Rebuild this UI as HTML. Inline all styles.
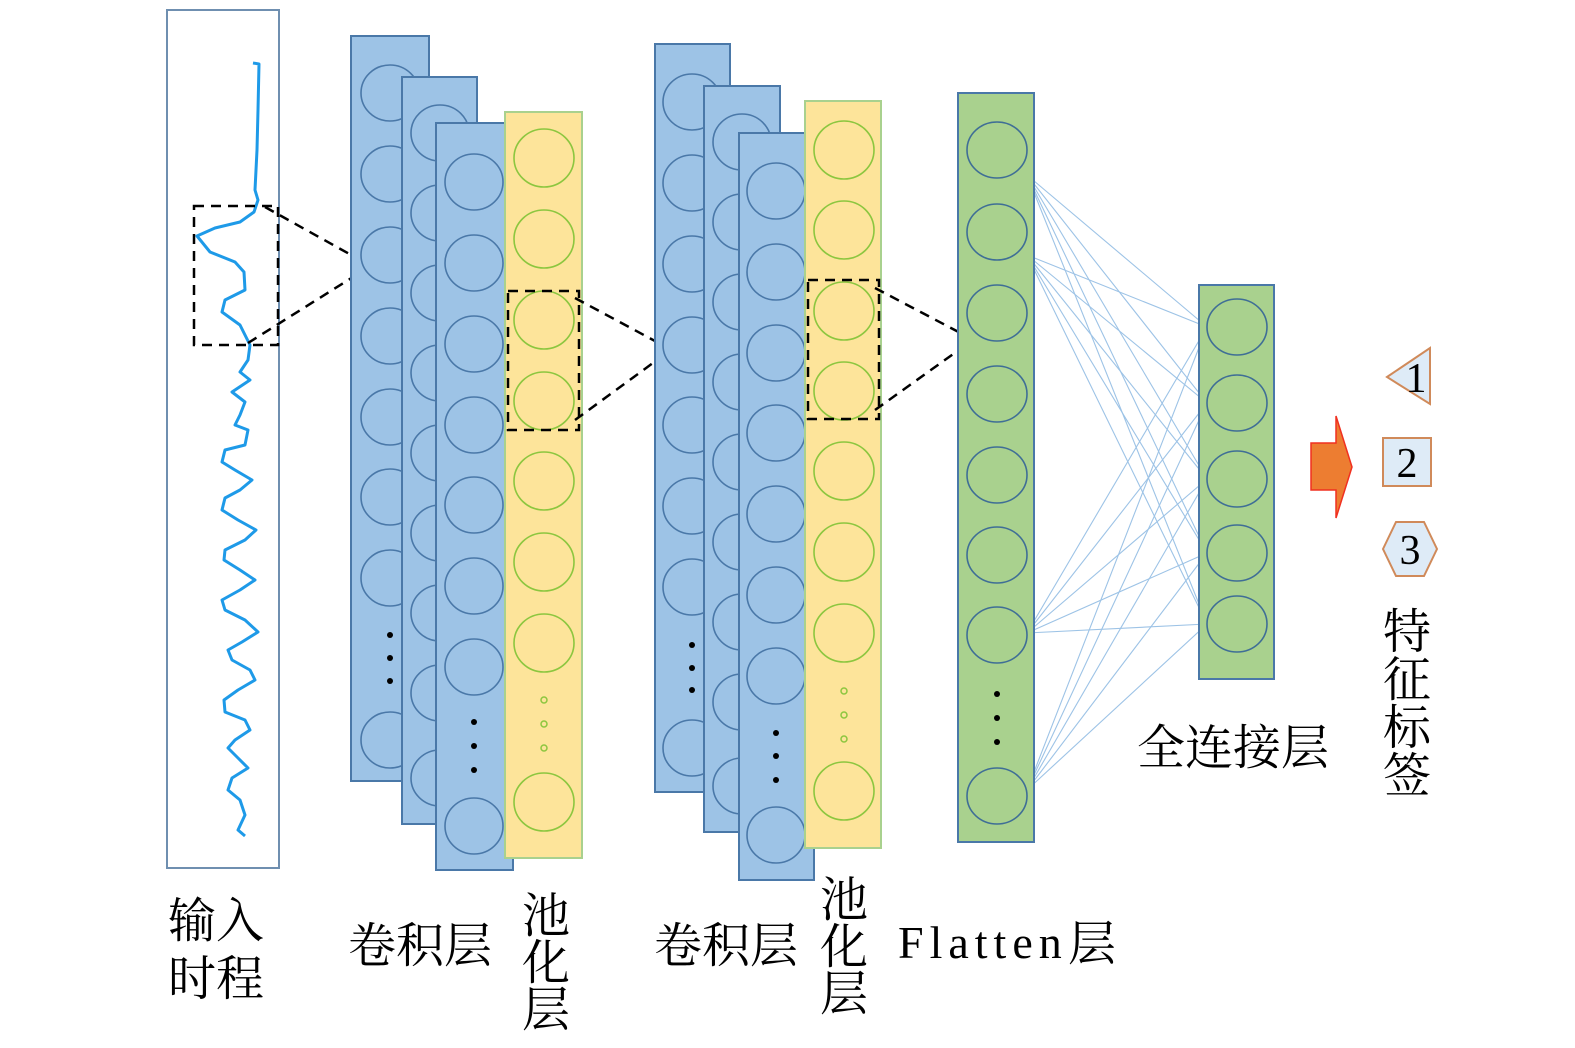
<!DOCTYPE html>
<html><head><meta charset="utf-8"><style>
html,body{margin:0;padding:0;background:#fff}
svg{display:block}
text{font-family:"Liberation Serif","Noto Serif CJK SC","Noto Sans CJK SC",serif;fill:#000}
</style></head><body>
<svg width="1575" height="1048" viewBox="0 0 1575 1048" xmlns="http://www.w3.org/2000/svg">
<defs>
<g id="cb"><ellipse rx="29" ry="28" fill="none" stroke="#4a78a8" stroke-width="1.6"/></g>
<g id="cy"><ellipse rx="30" ry="29" fill="none" stroke="#8cc63f" stroke-width="1.6"/></g>
<g id="cg"><ellipse rx="30" ry="28" fill="none" stroke="#3f6e96" stroke-width="1.6"/></g>
</defs>
<rect x="167" y="10" width="112" height="858" fill="#fff" stroke="#6f8fb0" stroke-width="2"/>
<path d="M253,63 L259,64 L258,110 L257,150 L255,190 L258,200 L254,212 L240,222 L215,228 L197,236 L210,252 L235,262 L244,272 L245,290 L225,300 L222,312 L240,325 L250,345 L248,360 L240,372 L250,380 L232,392 L245,402 L240,415 L235,425 L248,430 L245,445 L225,450 L222,462 L235,470 L252,480 L240,490 L225,498 L222,510 L238,520 L256,530 L245,540 L225,550 L224,560 L240,570 L255,580 L240,590 L222,600 L225,610 L245,620 L258,632 L242,642 L228,650 L232,660 L250,670 L255,680 L238,690 L224,700 L225,712 L245,720 L250,730 L235,740 L228,748 L238,758 L248,768 L232,778 L228,790 L240,800 L245,815 L238,830 L245,836" fill="none" stroke="#1e9ae8" stroke-width="3" stroke-linejoin="round"/>
<g stroke="#000" stroke-width="2.5" stroke-dasharray="10,7" fill="none">
<rect x="194" y="206" width="84" height="139"/>
<line x1="265" y1="207" x2="353" y2="256"/><line x1="248" y1="343" x2="353" y2="277"/>
</g>
<g>
<rect x="351" y="36" width="78" height="745" fill="#9dc3e6" stroke="#4a78a8" stroke-width="2"/>
<use href="#cb" x="390" y="93"/><use href="#cb" x="390" y="174"/><use href="#cb" x="390" y="255"/><use href="#cb" x="390" y="336"/><use href="#cb" x="390" y="417"/><use href="#cb" x="390" y="497"/><use href="#cb" x="390" y="578"/><use href="#cb" x="390" y="740"/>
<circle cx="390" cy="635" r="3"/><circle cx="390" cy="658" r="3"/><circle cx="390" cy="681" r="3"/>
<rect x="402" y="77" width="75" height="747" fill="#9dc3e6" stroke="#4a78a8" stroke-width="2"/>
<use href="#cb" x="440" y="133"/><use href="#cb" x="440" y="213"/><use href="#cb" x="440" y="293"/><use href="#cb" x="440" y="373"/><use href="#cb" x="440" y="453"/><use href="#cb" x="440" y="533"/><use href="#cb" x="440" y="613"/><use href="#cb" x="440" y="693"/><use href="#cb" x="440" y="778"/>
<rect x="436" y="123" width="77" height="747" fill="#9dc3e6" stroke="#4a78a8" stroke-width="2"/>
<use href="#cb" x="474" y="182"/><use href="#cb" x="474" y="263"/><use href="#cb" x="474" y="344"/><use href="#cb" x="474" y="425"/><use href="#cb" x="474" y="505"/><use href="#cb" x="474" y="586"/><use href="#cb" x="474" y="667"/><use href="#cb" x="474" y="826"/>
<circle cx="474" cy="722" r="3"/><circle cx="474" cy="746" r="3"/><circle cx="474" cy="770" r="3"/>
<rect x="505" y="112" width="77" height="746" fill="#fde49a" stroke="#a9d18e" stroke-width="2"/>
<use href="#cy" x="544" y="158"/><use href="#cy" x="544" y="239"/><use href="#cy" x="544" y="320"/><use href="#cy" x="544" y="401"/><use href="#cy" x="544" y="481"/><use href="#cy" x="544" y="562"/><use href="#cy" x="544" y="643"/><use href="#cy" x="544" y="802"/>
<g fill="none" stroke="#8cc63f" stroke-width="1.5"><circle cx="544" cy="700" r="3"/><circle cx="544" cy="724" r="3"/><circle cx="544" cy="748" r="3"/></g>
</g>
<g stroke="#000" stroke-width="2.5" stroke-dasharray="10,7" fill="none">
<rect x="508" y="291" width="71" height="139"/>
<line x1="575" y1="298" x2="668" y2="348"/><line x1="575" y1="420" x2="668" y2="352"/>
</g>
<g>
<rect x="655" y="44" width="75" height="748" fill="#9dc3e6" stroke="#4a78a8" stroke-width="2"/>
<use href="#cb" x="692" y="102"/><use href="#cb" x="692" y="183"/><use href="#cb" x="692" y="264"/><use href="#cb" x="692" y="345"/><use href="#cb" x="692" y="425"/><use href="#cb" x="692" y="506"/><use href="#cb" x="692" y="587"/><use href="#cb" x="692" y="748"/>
<circle cx="692" cy="645" r="3"/><circle cx="692" cy="668" r="3"/><circle cx="692" cy="690" r="3"/>
<rect x="704" y="86" width="76" height="746" fill="#9dc3e6" stroke="#4a78a8" stroke-width="2"/>
<use href="#cb" x="742" y="142"/><use href="#cb" x="742" y="222"/><use href="#cb" x="742" y="302"/><use href="#cb" x="742" y="382"/><use href="#cb" x="742" y="462"/><use href="#cb" x="742" y="542"/><use href="#cb" x="742" y="622"/><use href="#cb" x="742" y="702"/><use href="#cb" x="742" y="786"/>
<rect x="739" y="133" width="75" height="747" fill="#9dc3e6" stroke="#4a78a8" stroke-width="2"/>
<use href="#cb" x="776" y="191"/><use href="#cb" x="776" y="272"/><use href="#cb" x="776" y="353"/><use href="#cb" x="776" y="433"/><use href="#cb" x="776" y="514"/><use href="#cb" x="776" y="595"/><use href="#cb" x="776" y="676"/><use href="#cb" x="776" y="835"/>
<circle cx="776" cy="733" r="3"/><circle cx="776" cy="756" r="3"/><circle cx="776" cy="780" r="3"/>
<rect x="805" y="101" width="76" height="747" fill="#fde49a" stroke="#a9d18e" stroke-width="2"/>
<use href="#cy" x="844" y="150"/><use href="#cy" x="844" y="230"/><use href="#cy" x="844" y="311"/><use href="#cy" x="844" y="391"/><use href="#cy" x="844" y="471"/><use href="#cy" x="844" y="552"/><use href="#cy" x="844" y="633"/><use href="#cy" x="844" y="791"/>
<g fill="none" stroke="#8cc63f" stroke-width="1.5"><circle cx="844" cy="691" r="3"/><circle cx="844" cy="715" r="3"/><circle cx="844" cy="739" r="3"/></g>
</g>
<g stroke="#000" stroke-width="2.5" stroke-dasharray="10,7" fill="none">
<rect x="808" y="280" width="71" height="139"/>
<line x1="875" y1="288" x2="970" y2="338"/><line x1="875" y1="410" x2="970" y2="342"/>
</g>
<g stroke="#9dc3e6" stroke-width="1.1">
<line x1="1027" y1="175" x2="1207" y2="327"/><line x1="1027" y1="175" x2="1207" y2="403"/><line x1="1027" y1="175" x2="1207" y2="479"/><line x1="1027" y1="175" x2="1207" y2="553"/><line x1="1027" y1="175" x2="1207" y2="624"/>
<line x1="1027" y1="255" x2="1207" y2="327"/><line x1="1027" y1="255" x2="1207" y2="403"/><line x1="1027" y1="255" x2="1207" y2="479"/><line x1="1027" y1="255" x2="1207" y2="553"/><line x1="1027" y1="255" x2="1207" y2="624"/>
<line x1="1027" y1="633" x2="1207" y2="327"/><line x1="1027" y1="633" x2="1207" y2="403"/><line x1="1027" y1="633" x2="1207" y2="479"/><line x1="1027" y1="633" x2="1207" y2="553"/><line x1="1027" y1="633" x2="1207" y2="624"/>
<line x1="1027" y1="790" x2="1207" y2="327"/><line x1="1027" y1="790" x2="1207" y2="403"/><line x1="1027" y1="790" x2="1207" y2="479"/><line x1="1027" y1="790" x2="1207" y2="553"/><line x1="1027" y1="790" x2="1207" y2="624"/>
</g>
<rect x="958" y="93" width="76" height="749" fill="#a9d18e" stroke="#4a78a8" stroke-width="2"/>
<use href="#cg" x="997" y="150"/><use href="#cg" x="997" y="232"/><use href="#cg" x="997" y="313"/><use href="#cg" x="997" y="394"/><use href="#cg" x="997" y="475"/><use href="#cg" x="997" y="555"/><use href="#cg" x="997" y="635"/><use href="#cg" x="997" y="796"/>
<circle cx="997" cy="694" r="3"/><circle cx="997" cy="718" r="3"/><circle cx="997" cy="742" r="3"/>
<rect x="1199" y="285" width="75" height="394" fill="#a9d18e" stroke="#4a78a8" stroke-width="2"/>
<use href="#cg" x="1237" y="327"/><use href="#cg" x="1237" y="403"/><use href="#cg" x="1237" y="479"/><use href="#cg" x="1237" y="553"/><use href="#cg" x="1237" y="624"/>
<polygon points="1311,443 1336,443 1336,416 1352,467 1336,518 1336,490 1311,490" fill="#ed7d31" stroke="#f03020" stroke-width="1.5"/>
<polygon points="1387,377 1430,348 1430,404" fill="#deebf7" stroke="#d08a5a" stroke-width="2"/>
<rect x="1383" y="438" width="48" height="48" fill="#deebf7" stroke="#d08a5a" stroke-width="2"/>
<polygon points="1383,549 1396,522 1424,522 1437,549 1424,576 1396,576" fill="#deebf7" stroke="#d08a5a" stroke-width="2"/>
<text x="1416" y="392" font-size="42" text-anchor="middle">1</text>
<text x="1407" y="477" font-size="42" text-anchor="middle">2</text>
<text x="1410" y="564" font-size="42" text-anchor="middle">3</text>
<g font-size="48">
<text x="168" y="937">输入</text><text x="168" y="995">时程</text>
<text x="348" y="962">卷积层</text>
<text x="522" y="932">池</text><text x="522" y="979">化</text><text x="522" y="1026">层</text>
<text x="654" y="962">卷积层</text>
<text x="820" y="916">池</text><text x="820" y="963">化</text><text x="820" y="1010">层</text>
<text x="1137" y="764">全连接层</text>
<text x="1383" y="648">特</text><text x="1383" y="696">征</text><text x="1383" y="744">标</text><text x="1383" y="792">签</text>
</g>
<text x="898" y="958" font-size="46" letter-spacing="6">Flatten</text>
<text x="1068" y="960" font-size="48">层</text>
</svg>
</body></html>
